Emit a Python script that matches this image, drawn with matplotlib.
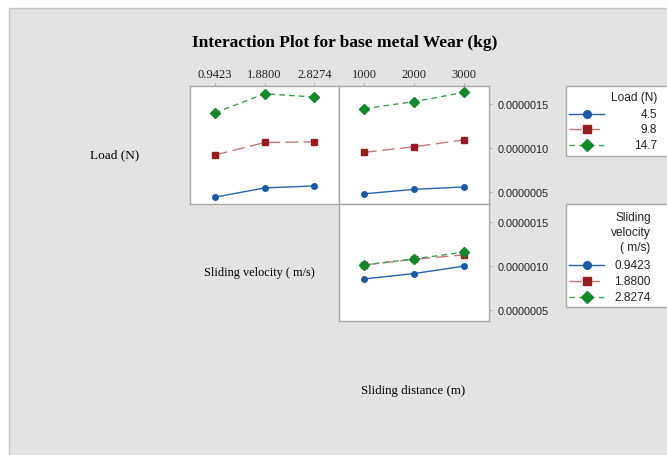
from matplotlib import pyplot as plt
from matplotlib.patches import Rectangle
from matplotlib.lines import Line2D
from matplotlib.ticker import FormatStrFormatter
import numpy as np

# factor levels
load_levels = ['4.5', '9.8', '14.7']
speed_levels = ['0.9423', '1.8800', '2.8274']
dist_levels = ['1000', '2000', '3000']

# mean wear (kg)
wear_load_speed = [[0.442e-6, 0.547e-6, 0.570e-6],
                   [0.921e-6, 1.064e-6, 1.071e-6],
                   [1.401e-6, 1.618e-6, 1.581e-6]]
wear_load_dist = [[0.480e-6, 0.531e-6, 0.558e-6],
                  [0.952e-6, 1.015e-6, 1.093e-6],
                  [1.449e-6, 1.528e-6, 1.633e-6]]
wear_speed_dist = [[0.852e-6, 0.913e-6, 0.997e-6],
                   [1.011e-6, 1.076e-6, 1.125e-6],
                   [1.011e-6, 1.080e-6, 1.156e-6]]

y_ticks = [0.5e-6, 1.0e-6, 1.5e-6]

colors = ['#1a5aa8', '#991b1e', '#128a2c']
line_colors = ['#2563ad', '#c07a7a', '#3f9d55']
markers = ['o', 's', 'D']
msizes = [4, 4.5, 4.8]
dashes = [None, (9, 4), (4, 3)]

W, H = 667, 456
fig = plt.figure(figsize=(W / 100, H / 100), dpi=100, facecolor='white')


def fx(px):
    return px / W


def fy(py):
    return 1 - py / H


# gray backdrop
fig.add_artist(Rectangle((fx(9), 0), 1, fy(9), transform=fig.transFigure,
                         facecolor='#e3e3e3', edgecolor='#c4c4c4', linewidth=1,
                         zorder=-10))

frame_col = '#a8a8a8'
serif = 'Liberation Serif'
sans = 'Liberation Sans'

pw, ph = 149.3, 117.8
panels = {
    'ls': (190, 86.7),
    'ld': (339.3, 86.7),
    'sd': (339.3, 204.5),
}


def make_ax(key):
    x0, y0 = panels[key]
    ax = fig.add_axes([fx(x0), fy(y0 + ph), fx(pw), ph / H])
    ax.set_facecolor('white')
    ax.set_xlim(0.5, 3.5)
    ax.set_ylim(0.37e-6, 1.71e-6)
    for s in ax.spines.values():
        s.set_color(frame_col)
        s.set_linewidth(1)
    ax.tick_params(colors=frame_col, labelcolor='#222222', length=2.5, width=0.8)
    ax.set_xticks([])
    ax.set_yticks([])
    return ax


def draw_lines(ax, data):
    x = np.arange(1, 4)
    for i, vals in enumerate(data):
        ln, = ax.plot(x, vals, color=line_colors[i], linewidth=1.0,
                      marker=markers[i], markersize=msizes[i],
                      markerfacecolor=colors[i], markeredgecolor=colors[i])
        if dashes[i] is not None:
            ln.set_dashes(dashes[i])


ax1 = make_ax('ls')
draw_lines(ax1, wear_load_speed)
ax1.xaxis.tick_top()
ax1.set_xticks([1, 2, 3])
ax1.set_xticklabels(speed_levels, fontfamily=serif, fontsize=9)

ax2 = make_ax('ld')
draw_lines(ax2, wear_load_dist)
ax2.xaxis.tick_top()
ax2.set_xticks([1, 2, 3])
ax2.set_xticklabels(dist_levels, fontfamily=serif, fontsize=9)

for ax in (ax1, ax2):
    ax.tick_params(axis='x', pad=1.5)

ax3 = make_ax('sd')
draw_lines(ax3, wear_speed_dist)

for ax in (ax2, ax3):
    ax.yaxis.tick_right()
    ax.set_yticks(y_ticks)
    ax.yaxis.set_major_formatter(FormatStrFormatter('%.7f'))
    for t in ax.get_yticklabels():
        t.set_fontfamily(sans)
        t.set_fontsize(7.8)
    ax.tick_params(axis='y', pad=4)

# titles and factor names
fig.text(fx(345), fy(43), 'Interaction Plot for base metal Wear (kg)',
         ha='center', va='center', fontfamily=serif, fontweight='bold', fontsize=12.5)
fig.text(fx(115), fy(155), 'Load (N)', ha='center', va='center',
         fontfamily=serif, fontsize=9.5)
fig.text(fx(259.5), fy(273), 'Sliding velocity ( m/s)', ha='center', va='center',
         fontfamily=serif, fontsize=8.8)
fig.text(fx(413), fy(391), 'Sliding distance (m)', ha='center', va='center',
         fontfamily=serif, fontsize=9.3)


def draw_legend(top, bottom, title_lines, title_y, labels, entry_y, right):
    fig.add_artist(Rectangle((fx(565.7), fy(bottom)), 1, (bottom - top) / H,
                             transform=fig.transFigure, facecolor='white',
                             edgecolor=frame_col, linewidth=1))
    for line, yy in zip(title_lines, title_y):
        fig.text(fx(right), fy(yy), line, ha='right', va='center',
                 fontfamily=sans, fontsize=8.6, color='#222222')
    for i, (lab, yy) in enumerate(zip(labels, entry_y)):
        ln = Line2D([fx(569.3), fx(604)], [fy(yy), fy(yy)], transform=fig.transFigure,
                    color=line_colors[i], linewidth=1.0)
        if dashes[i] is not None:
            ln.set_dashes(dashes[i])
        fig.add_artist(ln)
        fig.add_artist(Line2D([fx(587)], [fy(yy)], transform=fig.transFigure,
                              marker=markers[i], markersize=msizes[i] + 1.5,
                              color=colors[i], linestyle='none'))
        fig.text(fx(right), fy(yy), lab, ha='right', va='center',
                 fontfamily=sans, fontsize=8.6, color='#222222')


draw_legend(86.7, 156.7, ['Load (N)'], [98.3], load_levels, [115, 130, 146], 657.3)
draw_legend(205, 308.3, ['Sliding', 'velocity', '( m/s)'], [218.3, 233.3, 248.3],
            speed_levels, [265.7, 282.3, 298.3], 650.7)

plt.savefig('out.png', dpi=100, facecolor='white')
